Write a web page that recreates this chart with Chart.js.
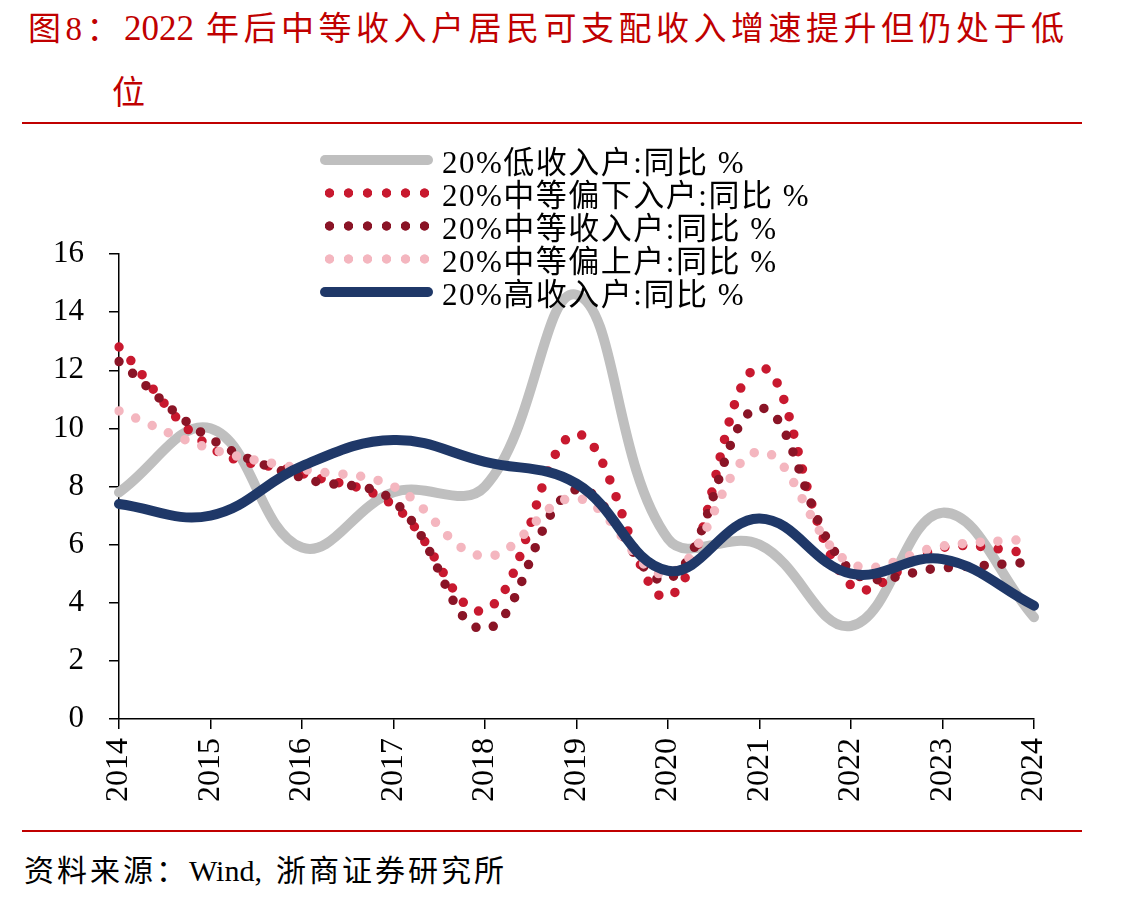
<!DOCTYPE html>
<html lang="zh">
<head>
<meta charset="UTF-8">
<title>中等收入户可支配收入增速</title>
<script src="https://cdn.jsdelivr.net/npm/chart.js"></script>
<style>
  body {
    margin: 0;
    width: 1141px;
    height: 900px;
    background: #fff;
    position: relative;
    overflow: hidden;
    font-family: 'Liberation Serif', 'Noto Sans CJK SC', serif;
  }
  .title {
    position: absolute;
    color: #C00000;
    font-size: 33px;
    letter-spacing: 4.5px;
    white-space: nowrap;
  }
  .title .num {
    font-size: 35px;
    letter-spacing: 0;
    margin-right: 12px;
  }
  .rule {
    position: absolute;
    left: 22px;
    width: 1060px;
    height: 2px;
    background: #C00000;
  }
  #source {
    position: absolute;
    left: 24px;
    top: 846px;
    font-size: 30px;
    letter-spacing: 3px;
    color: #000;
    white-space: nowrap;
  }
  #source .en { letter-spacing: 0; margin-right: 14px; }
  #chartBox {
    position: absolute;
    left: 0;
    top: 140px;
    width: 1141px;
    height: 680px;
  }
  #legend {
    position: absolute;
    left: 320px;
    top: 143px;
    font-size: 31px;
    letter-spacing: 1.5px;
    color: #000;
  }
  #legend .row {
    display: flex;
    align-items: center;
    height: 33px;
    white-space: nowrap;
  }
  #legend .swatch {
    width: 113px;
    height: 10px;
    margin-right: 9px;
    flex: none;
  }
  #legend .solid {
    border-radius: 5px;
  }
</style>
</head>
<body>

<div class="title" style="left:28px; top:2px;">图8：<span class="num">2022</span>年后中等收入户居民可支配收入增速提升但仍处于低</div>
<div class="title" style="left:112px; top:66px;">位</div>
<div class="rule" style="top:122px;"></div>

<div id="chartBox"><canvas id="incomeChart"></canvas></div>
<div id="legend"></div>

<div class="rule" style="top:830px;"></div>
<div id="source">资料来源：<span class="en">Wind,</span>浙商证券研究所</div>

<script>
  const years = ['2014', '2015', '2016', '2017', '2018', '2019', '2020', '2021', '2022', '2023', '2024'];

  const lowIncome   = [7.8, 10.0, 5.9, 7.8, 8.0, 14.6, 6.2, 6.0, 3.2, 7.1, 3.5];
  const lowerMiddle = [12.8, 9.35, 8.45, 7.35, 3.75, 9.8, 4.2, 12.1, 4.6, 5.9, 5.7];
  const middle      = [12.3, 9.65, 8.3, 7.5, 3.1, 7.9, 4.8, 10.7, 5.1, 5.2, 5.4];
  const upperMiddle = [10.6, 9.3, 8.6, 8.0, 5.6, 7.6, 5.0, 9.2, 5.35, 5.95, 6.2];
  const highIncome  = [7.4, 7.0, 8.7, 9.6, 8.85, 8.1, 5.1, 6.9, 5.0, 5.5, 3.9];

  const yTicks = [0, 2, 4, 6, 8, 10, 12, 14, 16];

  const seriesNames = [
    '20%低收入户:同比 %',
    '20%中等偏下入户:同比 %',
    '20%中等收入户:同比 %',
    '20%中等偏上户:同比 %',
    '20%高收入户:同比 %'
  ];
  const colors = ['#BFBFBF', '#C8192F', '#8A1426', '#F4B6BF', '#1F3868'];

  function solidLine(label, data, color, order) {
    return {
      label: label, data: data, borderColor: color, backgroundColor: color,
      borderWidth: 10, pointRadius: 0, tension: 0.4, fill: false,
      borderCapStyle: 'round', order: order
    };
  }
  function dottedLine(label, data, color, order) {
    return {
      label: label, data: data, borderColor: color, backgroundColor: color,
      borderWidth: 9.5, borderDash: [0, 18], borderCapStyle: 'round',
      pointRadius: 0, tension: 0.4, fill: false, order: order
    };
  }

  const ctx = document.getElementById('incomeChart').getContext('2d');
  new Chart(ctx, {
    type: 'line',
    data: {
      labels: years,
      datasets: [
        solidLine(seriesNames[0], lowIncome, colors[0], 5),
        dottedLine(seriesNames[1], lowerMiddle, colors[1], 4),
        dottedLine(seriesNames[2], middle, colors[2], 3),
        dottedLine(seriesNames[3], upperMiddle, colors[3], 2),
        solidLine(seriesNames[4], highIncome, colors[4], 1)
      ]
    },
    options: {
      responsive: true,
      maintainAspectRatio: false,
      animation: false,
      layout: { padding: { top: 114, right: 107, left: 0, bottom: 0 } },
      plugins: {
        legend: { display: false },
        tooltip: { enabled: false }
      },
      scales: {
        x: {
          offset: false,
          grid: { drawOnChartArea: false, drawTicks: true, tickLength: 10, color: '#000', lineWidth: 1.5 },
          border: { display: true, color: '#000', width: 1.5 },
          ticks: {
            color: '#000',
            font: { family: 'Liberation Serif', size: 32 },
            minRotation: 90, maxRotation: 90,
            padding: 9,
            autoSkip: false
          },
          afterFit: function (scale) { scale.height = 101; }
        },
        y: {
          min: 0, max: 16,
          afterBuildTicks: function (scale) {
            scale.ticks = yTicks.map(v => ({ value: v }));
          },
          grid: { drawOnChartArea: false, drawTicks: true, tickLength: 10, color: '#000', lineWidth: 1.5 },
          border: { display: true, color: '#000', width: 1.5 },
          ticks: {
            color: '#000',
            font: { family: 'Liberation Serif', size: 31 },
            padding: 25
          },
          afterFit: function (scale) { scale.width = 119; }
        }
      }
    }
  });

  // legend as html, samples mimic the line styles
  const legend = document.getElementById('legend');
  seriesNames.forEach(function (name, i) {
    const row = document.createElement('div');
    row.className = 'row';
    const sw = document.createElement('div');
    sw.className = 'swatch';
    if (i === 0 || i === 4) {
      sw.classList.add('solid');
      sw.style.background = colors[i];
    } else {
      sw.style.background = 'radial-gradient(circle, ' + colors[i] + ' 4.3px, transparent 5px) 0 0 / 19px 10px repeat-x';
    }
    const txt = document.createElement('span');
    txt.textContent = name;
    row.appendChild(sw);
    row.appendChild(txt);
    legend.appendChild(row);
  });
</script>
</body>
</html>
